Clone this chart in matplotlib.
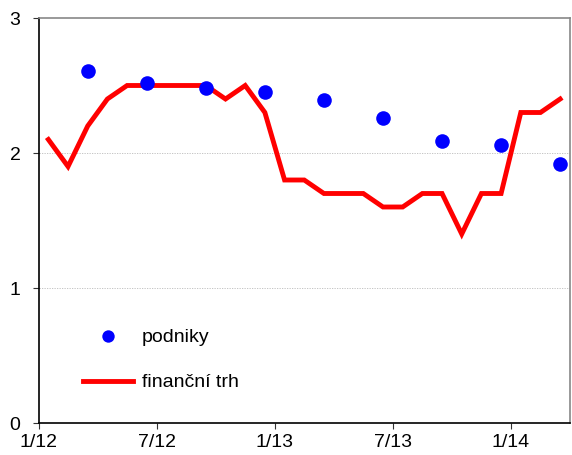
import numpy as np
import matplotlib
matplotlib.use("Agg")
import matplotlib.pyplot as plt

plt.rcParams['font.family'] = ['Liberation Sans', 'DejaVu Sans']

# monthly index 1/12 .. 3/14
months = 27
tick_labels = ["1/12", "7/12", "1/13", "7/13", "1/14"]
tick_months = [0, 6, 12, 18, 24]

financni_trh = [2.1, 1.9, 2.2, 2.4, 2.5, 2.5, 2.5, 2.5, 2.5, 2.4, 2.5, 2.3,
                1.8, 1.8, 1.7, 1.7, 1.7, 1.6, 1.6, 1.7, 1.7, 1.4, 1.7, 1.7,
                2.3, 2.3, 2.4]

# quarterly survey, placed at the last month of each quarter
podniky_months = [2, 5, 8, 11, 14, 17, 20, 23, 26]
podniky = [2.61, 2.52, 2.48, 2.45, 2.39, 2.26, 2.09, 2.06, 1.92]

fig = plt.figure(figsize=(5.72, 4.55), dpi=100)
ax = fig.add_axes([38.5 / 572, 1 - 423 / 455, (570 - 38.5) / 572, (423 - 18) / 455])

x_line = np.arange(months) + 0.5
x_dots = np.array(podniky_months) + 0.5

ax.plot(x_line, financni_trh, color='#ff0000', lw=3.5, solid_joinstyle='miter',
        label='finanční trh', zorder=3)
ax.plot(x_dots, podniky, 'o', color='#0000ff', ms=10.5, mec='none',
        label='podniky', zorder=4)

ax.set_xlim(0, months)
ax.set_ylim(0, 3)
ax.set_yticks([0, 1, 2, 3])
ax.set_xticks(tick_months)
ax.set_xticklabels(tick_labels)
ax.tick_params(labelsize=14, direction='out', length=4, width=0.8, color='#333333')
ax.tick_params(axis='x', pad=4)
ax.tick_params(axis='y', pad=9)

for y in [1, 2]:
    ax.axhline(y, color='#bbbbbb', lw=0.6, ls=(0, (1.5, 1.5)), zorder=1)

for side in ['left', 'bottom']:
    ax.spines[side].set_color('black')
    ax.spines[side].set_linewidth(1.2)
for side in ['top', 'right']:
    ax.spines[side].set_color('#888888')
    ax.spines[side].set_linewidth(1.2)

handles, labels = ax.get_legend_handles_labels()
ax.legend(handles[::-1], labels[::-1], loc='lower left', bbox_to_anchor=(0.05, 0.035),
          frameon=False, fontsize=14, handlelength=2.6, handletextpad=0.45,
          labelspacing=1.4, markerscale=0.85)

fig.savefig("out.png", dpi=100)
